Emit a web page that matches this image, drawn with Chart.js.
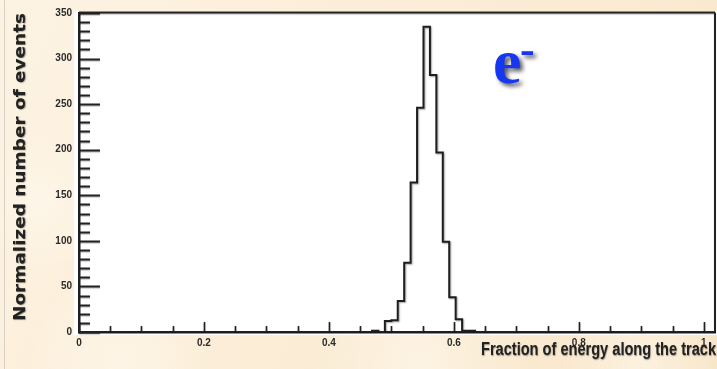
<!DOCTYPE html>
<html>
<head>
<meta charset="utf-8">
<script src="https://cdn.jsdelivr.net/npm/chart.js@4.4.1/dist/chart.umd.min.js"></script>
<style>
  html, body { margin: 0; padding: 0; background: #fbefda; }
  #wrap { position: relative; width: 717px; height: 369px; }
  canvas { display: block; }
</style>
</head>
<body>
<div id="wrap"><canvas id="c" width="717" height="369"></canvas></div>
<script>
// Fraction of energy deposited along the track, electron sample (normalized histogram)
const binStart = 0.469;
const binWidth = 0.0103;
const counts = [1.5, 0, 12, 13, 34, 76, 164, 246, 335, 282, 197, 99, 38, 14, 1.5, 1.5];

const xTickLabels = ['0', '0.2', '0.4', '0.6', '0.8', '1'];
const yTickLabels = ['0', '50', '100', '150', '200', '250', '300', '350'];
const xRange = [0, 1.018];
const yRange = [0, 350];

const xTitle = 'Fraction of energy along the track';
const yTitle = 'Normalized number of events';
const particleLabel = 'e';
const chargeLabel = '-';

// Step outline: one point per bin edge, closed back to zero after the last bin
const steps = [{ x: binStart, y: 0 }];
counts.forEach((c, i) => steps.push({ x: binStart + i * binWidth, y: c }));
steps.push({ x: binStart + counts.length * binWidth, y: 0 });

const labelFor = (list, v) => list.find(l => Math.abs(parseFloat(l) - v) < 1e-6) || '';

const tickFont = { family: '"Liberation Sans Narrow", "Liberation Sans", Arial, sans-serif', size: 10, weight: 'bold' };

// Cream backdrop and white pad behind the frame
const backdrop = {
  id: 'backdrop',
  beforeDraw(chart) {
    const { ctx, width, height, chartArea: a } = chart;
    ctx.save();
    const g = ctx.createLinearGradient(0, 0, width, height);
    g.addColorStop(0, '#fdf3e3');
    g.addColorStop(0.5, '#fbedd6');
    g.addColorStop(1, '#f8e6c9');
    ctx.fillStyle = g;
    ctx.fillRect(0, 0, width, height);
    [[120, 360, 90], [420, 362, 110], [40, 200, 70], [640, 358, 80]].forEach(([x, y, r]) => {
      const rg = ctx.createRadialGradient(x, y, 0, x, y, r);
      rg.addColorStop(0, 'rgba(255,250,240,0.55)');
      rg.addColorStop(1, 'rgba(255,250,240,0)');
      ctx.fillStyle = rg;
      ctx.fillRect(x - r, y - r, 2 * r, 2 * r);
    });
    ctx.fillStyle = '#d8d0c6';
    ctx.fillRect(4, 0, 1, height);
    ctx.fillStyle = '#ffffff';
    ctx.fillRect(a.left - 5, a.top - 2, width - (a.left - 5), a.bottom + 3 - (a.top - 2));
    ctx.restore();
  }
};

// Soft shadow under the histogram outline
const lineShadow = {
  id: 'lineShadow',
  beforeDatasetsDraw(chart) {
    const ctx = chart.ctx;
    ctx.save();
    ctx.shadowColor = 'rgba(0,0,0,0.35)';
    ctx.shadowOffsetX = 1;
    ctx.shadowOffsetY = 1;
    ctx.shadowBlur = 1.5;
  },
  afterDatasetsDraw(chart) { chart.ctx.restore(); }
};

// Inward tick marks, frame top/right edges, axis titles and the particle label
const decorations = {
  id: 'decorations',
  afterDraw(chart) {
    const { ctx, chartArea: a, scales } = chart;
    ctx.save();
    ctx.shadowColor = 'rgba(0,0,0,0.3)';
    ctx.shadowOffsetX = 0;
    ctx.shadowOffsetY = 1;
    ctx.shadowBlur = 1;
    ctx.strokeStyle = '#222';
    ctx.lineWidth = 2;

    // frame
    ctx.beginPath();
    ctx.moveTo(a.left, a.top - 0.5);
    ctx.lineTo(a.right, a.top - 0.5);
    ctx.moveTo(a.right, a.top - 0.5);
    ctx.lineTo(a.right, a.bottom);
    ctx.stroke();

    // y ticks (every 10, long every 50)
    scales.y.ticks.forEach(t => {
      const py = Math.round(scales.y.getPixelForValue(t.value)) + 0.5;
      const len = labelFor(yTickLabels, t.value) !== '' ? 21 : 11;
      ctx.beginPath();
      ctx.moveTo(a.left, py);
      ctx.lineTo(a.left + len, py);
      ctx.stroke();
    });
    // x ticks (every 0.05, long every 0.2)
    ctx.lineWidth = 1.6;
    scales.x.ticks.forEach(t => {
      const px = Math.round(scales.x.getPixelForValue(t.value)) + 0.5;
      const len = labelFor(xTickLabels, t.value) !== '' ? 10 : 6;
      ctx.beginPath();
      ctx.moveTo(px, a.bottom);
      ctx.lineTo(px, a.bottom - len);
      ctx.stroke();
    });
    ctx.restore();

    // axis titles
    ctx.save();
    ctx.fillStyle = '#222';
    ctx.shadowColor = 'rgba(0,0,0,0.4)';
    ctx.shadowBlur = 1.2;
    ctx.shadowOffsetX = 0.5;
    ctx.shadowOffsetY = 0.5;

    // x title, condensed and right aligned under the axis
    ctx.font = 'bold 18px "Liberation Sans", Arial, sans-serif';
    ctx.textBaseline = 'alphabetic';
    const xw = ctx.measureText(xTitle).width;
    const targetW = 235;
    ctx.save();
    ctx.translate(716 - targetW, 355);
    ctx.scale(targetW / xw, 1);
    ctx.textAlign = 'left';
    ctx.fillText(xTitle, 0, 0);
    ctx.restore();

    // y title, rotated and widened along the left margin
    ctx.font = 'bold 15px "DejaVu Sans", Verdana, sans-serif';
    const ySpan = 308;
    const yw = ctx.measureText(yTitle).width;
    ctx.save();
    ctx.translate(25, 167);
    ctx.rotate(-Math.PI / 2);
    ctx.scale(ySpan / yw, 1);
    ctx.textAlign = 'center';
    ctx.fillText(yTitle, 0, 0);
    ctx.restore();
    ctx.restore();

    // particle label e⁻
    ctx.save();
    ctx.fillStyle = '#1736f0';
    ctx.shadowColor = 'rgba(0,0,0,0.65)';
    ctx.shadowOffsetX = 3;
    ctx.shadowOffsetY = 3;
    ctx.shadowBlur = 4;
    const ex = scales.x.getPixelForValue(0.666);
    const ey = scales.y.getPixelForValue(273);
    ctx.font = 'bold 64px "Liberation Serif", "Times New Roman", serif';
    ctx.textBaseline = 'alphabetic';
    ctx.textAlign = 'left';
    const me = ctx.measureText(particleLabel);
    ctx.fillText(particleLabel, ex + me.actualBoundingBoxLeft, ey);
    const eRight = ex + me.actualBoundingBoxLeft + me.actualBoundingBoxRight;
    ctx.font = 'bold 44px "Liberation Serif", "Times New Roman", serif';
    const md = ctx.measureText(chargeLabel);
    const dTop = ey - 32;
    ctx.fillText(chargeLabel, eRight + 1 + md.actualBoundingBoxLeft, dTop + md.actualBoundingBoxAscent);
    ctx.restore();
  }
};

new Chart(document.getElementById('c'), {
  type: 'line',
  data: {
    datasets: [{
      data: steps,
      stepped: 'before',
      borderColor: '#1e1e1e',
      borderWidth: 2,
      pointRadius: 0,
      fill: false
    }]
  },
  options: {
    responsive: false,
    animation: false,
    events: [],
    layout: { padding: { top: 13, right: 2, left: 0, bottom: 0 } },
    plugins: { legend: { display: false }, tooltip: { enabled: false } },
    scales: {
      x: {
        type: 'linear',
        min: xRange[0],
        max: xRange[1],
        afterFit: s => { s.height = 37; },
        grid: { display: false, drawTicks: false },
        border: { display: true, color: '#1e1e1e', width: 2.5 },
        ticks: {
          stepSize: 0.05,
          includeBounds: false,
          autoSkip: false,
          maxRotation: 0,
          padding: 5,
          color: '#2a2a2a',
          font: tickFont,
          callback: v => labelFor(xTickLabels, v)
        }
      },
      y: {
        type: 'linear',
        min: yRange[0],
        max: yRange[1],
        afterFit: s => { s.width = 79; },
        grid: { display: false, drawTicks: false },
        border: { display: true, color: '#1e1e1e', width: 2.5 },
        ticks: {
          stepSize: 10,
          autoSkip: false,
          padding: 7,
          color: '#2a2a2a',
          font: tickFont,
          callback: v => labelFor(yTickLabels, v)
        }
      }
    }
  },
  plugins: [backdrop, lineShadow, decorations]
});
</script>
</body>
</html>
